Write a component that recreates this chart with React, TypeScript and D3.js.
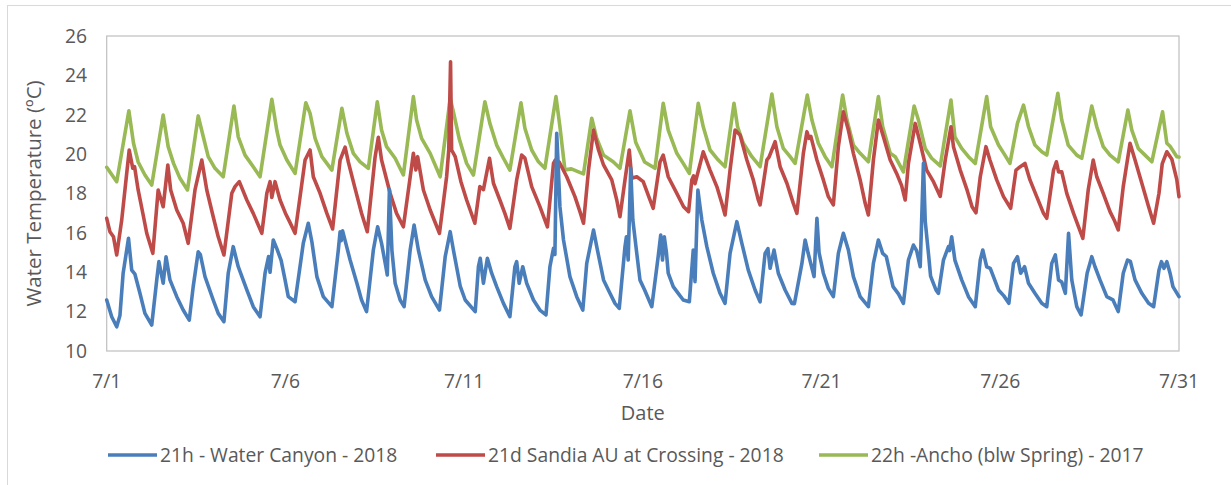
import * as d3 from "d3";

// days counted from 7/1 00:00, water temperature in °C
const dayTicks = [0, 5, 10, 15, 20, 25, 30];
const dayLabels = ["7/1", "7/6", "7/11", "7/16", "7/21", "7/26", "7/31"];
const tempTicks = [10, 12, 14, 16, 18, 20, 22, 24, 26];

const waterCanyon: [number, number][] = [
  [0, 12.59], [0.14, 11.74], [0.28, 11.23], [0.37, 11.8], [0.46, 13.95], [0.61, 15.72], [0.7, 14.11], [0.79, 13.9], [0.93, 12.93], [1.07, 11.91], [1.26, 11.32],
  [1.4, 13.61], [1.46, 14.54], [1.58, 13.44], [1.66, 14.79], [1.77, 13.61], [1.96, 12.76], [2.14, 12.08], [2.31, 11.57],
  [2.42, 13.27], [2.56, 15.04], [2.62, 14.9], [2.75, 13.78], [2.98, 12.59], [3.12, 11.91], [3.28, 11.49],
  [3.4, 13.95], [3.54, 15.3], [3.68, 14.28], [3.92, 13.1], [4.1, 12.25], [4.29, 11.74],
  [4.43, 13.95], [4.53, 14.8], [4.57, 14.0], [4.66, 15.64], [4.76, 15.2], [4.88, 14.6], [4.99, 13.61], [5.08, 12.76], [5.27, 12.5],
  [5.5, 15.47], [5.64, 16.49], [5.74, 15.55], [5.88, 13.78], [6.06, 12.76], [6.3, 12.25],
  [6.48, 15.13], [6.53, 16.06], [6.56, 15.6], [6.6, 16.1], [6.81, 14.62], [7.0, 13.44], [7.13, 12.59], [7.27, 12.0],
  [7.46, 15.13], [7.58, 16.31], [7.69, 15.47], [7.81, 14.28], [7.85, 13.86], [7.91, 18.2], [7.98, 15.1], [8.07, 13.44], [8.21, 12.59], [8.32, 12.25],
  [8.49, 15.13], [8.6, 16.4], [8.72, 15.13], [8.91, 13.61], [9.09, 12.76], [9.31, 12.08],
  [9.47, 14.79], [9.61, 16.06], [9.7, 15.13], [9.89, 13.3], [10.03, 12.59], [10.31, 12.0],
  [10.4, 14.28], [10.45, 14.71], [10.54, 13.44], [10.65, 14.71], [10.77, 13.95], [10.91, 13.27], [11.1, 12.42], [11.28, 11.74],
  [11.42, 14.28], [11.47, 14.54], [11.54, 13.44], [11.64, 14.28], [11.75, 13.44], [11.94, 12.59], [12.12, 12.08], [12.29, 11.83],
  [12.4, 14.28], [12.5, 15.22], [12.54, 14.9], [12.59, 21.06], [12.63, 19.5], [12.68, 17.33], [12.78, 15.64], [12.96, 13.78], [13.15, 12.76], [13.32, 12.08],
  [13.43, 14.45], [13.62, 16.14], [13.71, 15.3], [13.9, 13.61], [14.08, 12.93], [14.22, 12.42], [14.34, 12.17],
  [14.5, 15.3], [14.54, 15.8], [14.59, 14.62], [14.66, 19.28], [14.72, 16.65], [14.83, 14.96], [14.92, 13.6], [15.05, 13.1], [15.25, 12.25],
  [15.44, 14.96], [15.5, 15.89], [15.55, 14.62], [15.6, 15.8], [15.66, 15.0], [15.71, 13.95], [15.85, 13.27], [15.99, 12.93], [16.13, 12.59], [16.3, 12.5],
  [16.41, 15.13], [16.46, 13.52], [16.54, 18.18], [16.6, 17.33], [16.65, 16.65], [16.79, 15.3], [16.97, 13.95], [17.16, 12.93], [17.3, 12.42],
  [17.44, 14.96], [17.63, 16.57], [17.77, 15.47], [17.95, 14.11], [18.14, 13.1], [18.28, 12.5],
  [18.42, 14.96], [18.5, 15.2], [18.56, 14.2], [18.67, 15.13], [18.79, 13.95], [18.98, 13.1], [19.17, 12.42], [19.24, 12.4],
  [19.45, 14.45], [19.54, 15.64], [19.62, 15.0], [19.79, 13.78], [19.87, 16.74], [19.93, 15.0], [20.05, 13.95], [20.19, 13.18], [20.33, 12.76],
  [20.47, 14.96], [20.61, 15.98], [20.75, 15.13], [20.89, 13.78], [21.08, 12.76], [21.31, 12.25],
  [21.45, 14.45], [21.59, 15.64], [21.71, 14.96], [21.81, 14.8], [22.0, 13.27], [22.15, 12.9], [22.29, 12.42],
  [22.43, 14.62], [22.57, 15.38], [22.66, 15.1], [22.76, 14.28], [22.85, 19.53], [22.9, 16.6], [22.99, 14.96], [23.05, 13.8], [23.2, 13.1], [23.27, 12.93],
  [23.41, 14.62], [23.55, 15.3], [23.58, 15.1], [23.64, 15.8], [23.73, 14.62], [23.92, 13.61], [24.11, 12.76], [24.3, 12.25],
  [24.44, 14.62], [24.51, 15.13], [24.62, 14.28], [24.72, 14.2], [24.95, 13.1], [25.1, 12.8], [25.24, 12.42],
  [25.37, 14.45], [25.48, 14.79], [25.57, 13.95], [25.68, 14.28], [25.79, 13.44], [25.97, 12.93], [26.16, 12.42], [26.3, 12.25],
  [26.44, 14.45], [26.54, 14.88], [26.63, 13.61], [26.72, 13.5], [26.82, 12.93], [26.91, 15.98], [27.0, 13.61], [27.14, 12.25], [27.26, 11.83],
  [27.43, 13.95], [27.56, 14.79], [27.65, 14.28], [27.79, 13.61], [27.98, 12.76], [28.15, 12.6], [28.3, 12.0],
  [28.44, 13.95], [28.56, 14.62], [28.64, 14.55], [28.77, 13.61], [28.96, 12.93], [29.15, 12.42], [29.29, 12.25],
  [29.44, 14.11], [29.51, 14.54], [29.58, 14.2], [29.66, 14.54], [29.75, 13.95], [29.83, 13.27], [30, 12.76],
];

const sandiaAU: [number, number][] = [
  [0, 16.74], [0.09, 16.06], [0.19, 15.8], [0.28, 14.88], [0.42, 16.65], [0.63, 20.21], [0.73, 19.28], [0.78, 19.36], [0.88, 18.18], [1.03, 16.82], [1.12, 15.98], [1.29, 14.96],
  [1.44, 18.18], [1.58, 17.33], [1.71, 19.45], [1.79, 18.18], [1.96, 17.16], [2.14, 16.49], [2.28, 15.47],
  [2.47, 18.18], [2.66, 19.7], [2.8, 18.18], [2.98, 16.82], [3.12, 15.8], [3.28, 14.88],
  [3.5, 18.01], [3.59, 18.35], [3.71, 18.6], [3.92, 17.67], [4.1, 16.99], [4.34, 15.98],
  [4.48, 18.01], [4.57, 18.6], [4.62, 17.8], [4.71, 18.6], [4.85, 17.67], [5.0, 17.0], [5.13, 16.52], [5.27, 15.98],
  [5.55, 19.7], [5.69, 20.21], [5.78, 18.85], [5.97, 18.01], [6.16, 16.99], [6.32, 16.2],
  [6.53, 19.7], [6.67, 20.35], [6.76, 19.6], [6.95, 18.25], [7.13, 17.0], [7.29, 16.06],
  [7.51, 19.87], [7.6, 20.85], [7.69, 19.7], [7.93, 18.01], [8.11, 16.99], [8.3, 16.31],
  [8.53, 19.36], [8.58, 20.04], [8.65, 19.2], [8.7, 19.87], [8.86, 18.18], [9.05, 17.16], [9.31, 15.98],
  [9.51, 18.85], [9.57, 20.21], [9.62, 24.69], [9.65, 20.21], [9.75, 19.87], [9.91, 18.6], [10.07, 17.67], [10.3, 16.49],
  [10.44, 18.35], [10.54, 18.2], [10.71, 19.79], [10.82, 18.52], [11.0, 17.67], [11.14, 16.99], [11.28, 16.23],
  [11.47, 18.69], [11.61, 19.95], [11.7, 19.8], [11.89, 18.35], [12.12, 17.33], [12.33, 16.31],
  [12.5, 19.53], [12.55, 19.7], [12.66, 19.6], [12.87, 18.85], [13.1, 17.84], [13.24, 17.08], [13.34, 16.49],
  [13.48, 19.19], [13.62, 21.22], [13.76, 20.21], [13.9, 19.45], [14.13, 18.69], [14.27, 17.67], [14.36, 16.82],
  [14.5, 18.69], [14.62, 20.21], [14.69, 18.77], [14.83, 18.85], [15.01, 18.6], [15.2, 17.67], [15.29, 17.25],
  [15.48, 19.6], [15.57, 19.95], [15.71, 18.85], [15.95, 18.01], [16.14, 17.33], [16.28, 17.08],
  [16.37, 18.69], [16.42, 18.9], [16.46, 18.5], [16.69, 20.12], [16.88, 19.19], [17.07, 18.35], [17.21, 17.5], [17.3, 16.91],
  [17.44, 19.19], [17.58, 21.22], [17.72, 20.97], [17.91, 19.7], [18.09, 18.69], [18.23, 17.67], [18.28, 17.42],
  [18.47, 19.7], [18.53, 19.85], [18.7, 20.63], [18.84, 19.36], [19.03, 18.52], [19.21, 17.5], [19.31, 16.99],
  [19.49, 20.04], [19.59, 21.14], [19.65, 20.8], [19.7, 20.9], [19.87, 19.7], [20.05, 18.69], [20.19, 17.84], [20.33, 17.42],
  [20.47, 20.38], [20.61, 22.15], [20.75, 21.22], [20.89, 20.04], [21.08, 18.69], [21.22, 17.5], [21.31, 16.91],
  [21.45, 19.7], [21.59, 21.73], [21.73, 20.88], [21.92, 19.7], [22.1, 19.02], [22.24, 18.4], [22.34, 17.67],
  [22.43, 19.53], [22.62, 21.56], [22.76, 20.55], [22.94, 19.19], [23.13, 18.6], [23.32, 17.85],
  [23.46, 19.7], [23.62, 21.39], [23.69, 20.38], [23.88, 19.19], [24.07, 18.18], [24.21, 17.33], [24.32, 17.02],
  [24.44, 18.85], [24.6, 20.38], [24.71, 19.7], [24.9, 18.69], [25.09, 17.84], [25.29, 17.25],
  [25.44, 19.19], [25.55, 19.35], [25.69, 19.53], [25.83, 18.69], [26.02, 17.84], [26.21, 16.99], [26.3, 16.74],
  [26.49, 19.19], [26.57, 19.61], [26.63, 19.1], [26.72, 19.1], [26.86, 18.01], [27.05, 16.99], [27.19, 16.31], [27.31, 15.72],
  [27.46, 18.18], [27.6, 19.7], [27.7, 18.85], [27.88, 18.01], [28.07, 17.08], [28.2, 16.6], [28.3, 16.15],
  [28.44, 18.35], [28.63, 20.55], [28.77, 19.7], [28.96, 18.52], [29.15, 17.33], [29.29, 16.49],
  [29.44, 18.01], [29.53, 19.5], [29.66, 20.12], [29.8, 19.74], [29.94, 18.69], [30, 17.84],
];

const anchoSpring: [number, number][] = [
  [0, 19.33], [0.28, 18.6], [0.62, 22.2], [0.75, 20.55], [0.88, 19.6], [1.07, 18.94], [1.26, 18.43],
  [1.58, 21.99], [1.72, 20.38], [1.87, 19.53], [2.05, 18.77], [2.26, 18.18],
  [2.56, 21.94], [2.69, 20.97], [2.84, 19.87], [3.03, 19.28], [3.26, 18.85],
  [3.56, 22.44], [3.68, 20.88], [3.87, 19.95], [4.1, 19.36], [4.29, 18.85],
  [4.62, 22.78], [4.76, 21.2], [4.85, 20.46], [5.04, 19.7], [5.27, 19.02],
  [5.57, 22.61], [5.69, 22.07], [5.83, 20.8], [6.02, 19.87], [6.3, 19.19],
  [6.58, 22.33], [6.72, 21.06], [6.9, 20.04], [7.09, 19.61], [7.32, 19.28],
  [7.57, 22.66], [7.69, 21.22], [7.83, 20.38], [8.07, 19.79], [8.3, 18.94],
  [8.58, 22.92], [8.67, 21.73], [8.81, 20.8], [9.05, 20.04], [9.33, 18.85],
  [9.61, 22.83], [9.7, 22.15], [9.86, 20.8], [10.07, 19.53], [10.26, 18.94],
  [10.58, 22.66], [10.72, 21.56], [10.91, 20.46], [11.1, 19.79], [11.28, 19.19],
  [11.59, 22.61], [11.7, 21.31], [11.89, 20.21], [12.08, 19.61], [12.26, 19.28],
  [12.57, 22.92], [12.68, 21.39], [12.82, 19.2], [13.0, 19.25], [13.2, 19.1], [13.34, 19.0],
  [13.57, 21.82], [13.71, 20.8], [13.9, 19.95], [14.17, 19.61], [14.36, 19.28],
  [14.64, 22.2], [14.8, 20.6], [15.05, 19.6], [15.34, 19.28],
  [15.57, 22.58], [15.71, 21.22], [15.95, 20.04], [16.13, 19.53], [16.3, 19.02],
  [16.55, 22.58], [16.69, 21.39], [16.88, 20.21], [17.11, 19.7], [17.3, 19.36],
  [17.55, 22.58], [17.65, 21.39], [17.81, 20.55], [18.05, 19.87], [18.28, 19.36],
  [18.61, 23.05], [18.75, 21.39], [18.93, 20.29], [19.12, 19.87], [19.26, 19.53],
  [19.6, 23.0], [19.73, 21.73], [19.91, 20.55], [20.1, 19.87], [20.29, 19.36],
  [20.59, 23.0], [20.71, 21.73], [20.89, 20.46], [21.08, 20.04], [21.31, 19.61],
  [21.59, 22.92], [21.71, 21.39], [21.92, 20.04], [22.06, 19.87], [22.29, 19.1],
  [22.59, 22.44], [22.71, 21.73], [22.9, 20.29], [23.08, 19.79], [23.32, 19.4],
  [23.62, 22.75], [23.73, 20.88], [23.92, 20.29], [24.11, 19.87], [24.3, 19.53],
  [24.62, 22.92], [24.73, 21.39], [24.95, 20.46], [25.13, 19.95], [25.27, 19.53],
  [25.48, 21.56], [25.65, 22.49], [25.79, 21.39], [25.97, 20.46], [26.16, 20.12], [26.3, 19.95],
  [26.61, 23.09], [26.72, 21.73], [26.9, 20.46], [27.14, 19.95], [27.28, 19.79],
  [27.56, 22.44], [27.7, 21.39], [27.88, 20.38], [28.07, 19.95], [28.3, 19.61],
  [28.57, 22.24], [28.68, 21.22], [28.86, 20.29], [29.05, 19.95], [29.24, 19.61],
  [29.54, 22.15], [29.66, 20.55], [29.75, 20.4], [29.94, 19.87], [30, 19.85],
];

const seriesNames = [
  "21h - Water Canyon - 2018",
  "21d Sandia AU at Crossing - 2018",
  "22h -Ancho (blw Spring) - 2017",
];
const seriesData = [waterCanyon, sandiaAU, anchoSpring];
const seriesColors = ["#4a7ebb", "#be4b48", "#98b954"];

const W = 1231;
const H = 485;
const plot = { left: 106.7, right: 1179, top: 36, bottom: 351 };
const legendX = [108, 436, 819]; // where each legend entry starts
const font = "'Open Sans', sans-serif";
const textColor = "#595959";

export default function App() {
  const x = d3.scaleLinear().domain([0, 30]).range([plot.left, plot.right]);
  const y = d3.scaleLinear().domain([10, 26]).range([plot.bottom, plot.top]);
  const line = d3
    .line<[number, number]>()
    .x(d => x(d[0]))
    .y(d => y(d[1]));

  // green drawn first, blue last (blue sits on top in the picture)
  const order = [2, 1, 0];

  return (
    <div style={{ position: "absolute", left: 0, top: 0 }}>
      <svg width={W} height={H} style={{ display: "block", background: "#fff" }} fontFamily={font}>
        <rect x={7.5} y={5.5} width={W} height={H} fill="none" stroke="#d9d9d9" />
        <rect
          x={plot.left}
          y={plot.top}
          width={plot.right - plot.left}
          height={plot.bottom - plot.top}
          fill="none"
          stroke="#bfbfbf"
          strokeWidth={1.2}
        />

        {order.map(i => (
          <path
            key={i}
            d={line(seriesData[i]) ?? ""}
            fill="none"
            stroke={seriesColors[i]}
            strokeWidth={3.6}
            strokeLinejoin="round"
            strokeLinecap="round"
          />
        ))}

        {tempTicks.map(t => (
          <text key={t} x={87} y={y(t)} dy="0.35em" textAnchor="end" fontSize={19.3} fill={textColor}>
            {t}
          </text>
        ))}

        {dayTicks.map((d, i) => (
          <text key={d} x={x(d)} y={381} dy="0.35em" textAnchor="middle" fontSize={19.3} fill={textColor}>
            {dayLabels[i]}
          </text>
        ))}

        <text x={(plot.left + plot.right) / 2} y={413} dy="0.35em" textAnchor="middle" fontSize={20} fill={textColor}>
          Date
        </text>
        <text
          transform={`translate(34, ${(plot.top + plot.bottom) / 2}) rotate(-90)`}
          dy="0.35em"
          textAnchor="middle"
          fontSize={20.5}
          fill={textColor}
        >
          Water Temperature (ºC)
        </text>

        {seriesNames.map((name, i) => (
          <g key={name} transform={`translate(${legendX[i]}, 455)`}>
            <line x1={0} x2={49} y1={0} y2={0} stroke={seriesColors[i]} strokeWidth={3.6} />
            <text x={52} dy="0.35em" fontSize={19.3} fill={textColor}>
              {name}
            </text>
          </g>
        ))}
      </svg>
    </div>
  );
}
